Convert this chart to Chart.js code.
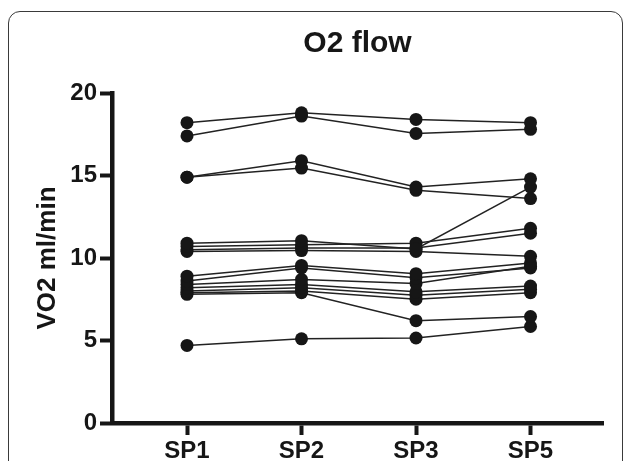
<!DOCTYPE html>
<html>
<head>
<meta charset="utf-8">
<script src="https://cdn.jsdelivr.net/npm/chart.js@4.4.1/dist/chart.umd.min.js"></script>
<style>
html,body{margin:0;padding:0;background:#fff;}
#wrap{position:relative;width:625px;height:461px;overflow:hidden;}
#frame{position:absolute;left:8px;top:11px;width:615px;height:520px;border:1.5px solid #3a3a3a;border-radius:12px;box-sizing:border-box;}
canvas{position:absolute;left:0;top:0;}
</style>
</head>
<body>
<div id="wrap"><div id="frame"></div><canvas id="c" width="625" height="461"></canvas></div>
<script>
// phases on the x axis
const phases = ["SP1", "SP2", "SP3", "SP5"];
const yTicks = [0, 5, 10, 15, 20];

// one array per subject, values in ml/min
const s01 = [18.2, 18.8, 18.4, 18.2];
const s02 = [17.4, 18.6, 17.55, 17.8];
const s03 = [14.9, 15.9, 14.3, 14.8];
const s04 = [14.9, 15.45, 14.1, 13.6];
const s05 = [10.9, 11.05, 10.55, 14.3];
const s06 = [10.7, 10.8, 10.9, 11.8];
const s07 = [10.5, 10.6, 10.6, 11.5];
const s08 = [10.4, 10.45, 10.4, 10.1];
const s09 = [8.9, 9.55, 9.05, 9.7];
const s10 = [8.6, 9.4, 8.8, 9.4];
const s11 = [8.4, 8.7, 8.45, 9.5];
const s12 = [8.2, 8.4, 7.95, 8.3];
const s13 = [8.0, 8.2, 7.75, 8.1];
const s14 = [7.9, 8.0, 7.5, 7.9];
const s15 = [7.8, 7.9, 6.2, 6.45];
const s16 = [4.7, 5.1, 5.15, 5.85];

const subjects = [s01, s02, s03, s04, s05, s06, s07, s08, s09, s10, s11, s12, s13, s14, s15, s16];

const ink = '#161616';
const fam = "'Liberation Sans', Arial, Helvetica, sans-serif";

const datasets = subjects.map(vals => ({
    data: vals.map((v, i) => ({x: i, y: v})),
    borderColor: '#222',
    borderWidth: 1.5,
    pointRadius: 6.5,
    pointBackgroundColor: ink,
    pointBorderWidth: 0,
    showLine: true,
    clip: false
}));

// title centred over the plot area, not the whole canvas
const plotTitle = {
    id: 'plotTitle',
    afterDraw(chart) {
        const {ctx, chartArea} = chart;
        ctx.save();
        ctx.font = "bold 30px " + fam;
        ctx.fillStyle = ink;
        ctx.textAlign = 'center';
        ctx.textBaseline = 'alphabetic';
        ctx.fillText('O2 flow', (chartArea.left + chartArea.right) / 2, 52);
        ctx.restore();
    }
};

const ctx = document.getElementById('c').getContext('2d');
new Chart(ctx, {
    type: 'scatter',
    data: {datasets: datasets},
    plugins: [plotTitle],
    options: {
        responsive: false,
        animation: false,
        layout: {padding: {left: 0, right: 22, top: 93, bottom: 0}},
        plugins: {
            legend: {display: false},
            tooltip: {enabled: false},
            title: {display: false}
        },
        scales: {
            x: {
                type: 'linear',
                min: -0.655,
                max: 3.633,
                afterBuildTicks: s => { s.ticks = phases.map((p, i) => ({value: i})); },
                afterFit: s => { s.height = 38; },
                grid: {drawOnChartArea: false, drawTicks: true, tickLength: 12, tickWidth: 4, color: ink},
                border: {display: true, width: 4.5, color: ink},
                ticks: {
                    autoSkip: false,
                    maxRotation: 0,
                    padding: 2,
                    color: ink,
                    font: {family: fam, size: 24, weight: 'bold'},
                    callback: v => phases[v]
                }
            },
            y: {
                min: 0,
                max: 20,
                afterBuildTicks: s => { s.ticks = yTicks.map(v => ({value: v})); },
                afterFit: s => { s.width = 112; },
                grid: {drawOnChartArea: false, drawTicks: true, tickLength: 12, tickWidth: 4, color: ink},
                border: {display: true, width: 4.5, color: ink},
                ticks: {
                    padding: 3,
                    color: ink,
                    font: {family: fam, size: 24, weight: 'bold'}
                },
                title: {
                    display: true,
                    text: 'VO2 ml/min',
                    color: ink,
                    font: {family: fam, size: 26, weight: 'bold'},
                    padding: {top: 32, bottom: 0}
                }
            }
        }
    }
});
</script>
</body>
</html>
